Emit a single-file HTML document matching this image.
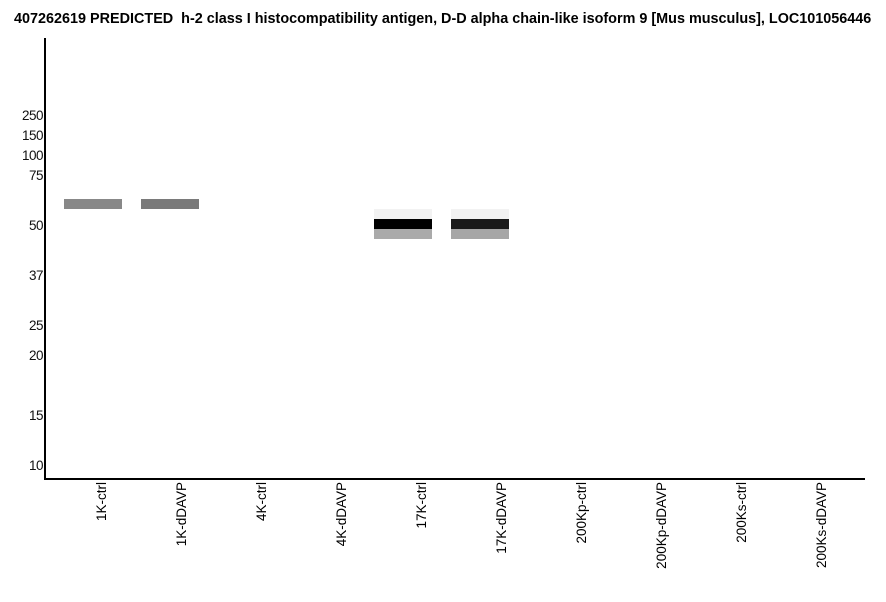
<!DOCTYPE html>
<html><head><style>
body{margin:0;width:886px;height:595px;background:#fff;position:relative;font-family:"Liberation Sans",Arial,sans-serif;overflow:hidden}
.t{position:absolute;left:14px;top:11px;font-size:14.4px;font-weight:bold;white-space:nowrap}
.y{position:absolute;right:843px;font-size:13.5px;color:#111;line-height:14px;letter-spacing:-0.5px}
.b{position:absolute}
.x{position:absolute;font-size:13.5px;white-space:nowrap;transform-origin:0 0;transform:rotate(-90deg);text-align:right;width:120px;line-height:15px}
</style></head><body>
<div class="t">407262619 PREDICTED&nbsp; h-2 class I histocompatibility antigen, D-D alpha chain-like isoform 9 [Mus musculus], LOC101056446</div>
<div class="b" style="left:44px;top:38px;width:2px;height:442px;background:#000"></div>
<div class="b" style="left:44px;top:478px;width:821px;height:2px;background:#000"></div>
<div class="y" style="top:109px">250</div>
<div class="y" style="top:129px">150</div>
<div class="y" style="top:149px">100</div>
<div class="y" style="top:169px">75</div>
<div class="y" style="top:219px">50</div>
<div class="y" style="top:269px">37</div>
<div class="y" style="top:319px">25</div>
<div class="y" style="top:349px">20</div>
<div class="y" style="top:409px">15</div>
<div class="y" style="top:459px">10</div>
<div class="b" style="left:64px;top:199px;width:58px;height:10px;background:#888"></div>
<div class="b" style="left:141px;top:199px;width:58px;height:10px;background:#7a7a7a"></div>
<div class="b" style="left:374px;top:209px;width:58px;height:10px;background:#f2f2f2"></div>
<div class="b" style="left:374px;top:219px;width:58px;height:10px;background:#000"></div>
<div class="b" style="left:374px;top:229px;width:58px;height:10px;background:#aaa"></div>
<div class="b" style="left:451px;top:209px;width:58px;height:10px;background:#f2f2f2"></div>
<div class="b" style="left:451px;top:219px;width:58px;height:10px;background:#1a1a1a"></div>
<div class="b" style="left:451px;top:229px;width:58px;height:10px;background:#a6a6a6"></div>
<div class="x" style="left:94px;top:602px">1K-ctrl</div>
<div class="x" style="left:174px;top:602px">1K-dDAVP</div>
<div class="x" style="left:254px;top:602px">4K-ctrl</div>
<div class="x" style="left:334px;top:602px">4K-dDAVP</div>
<div class="x" style="left:414px;top:602px">17K-ctrl</div>
<div class="x" style="left:494px;top:602px">17K-dDAVP</div>
<div class="x" style="left:574px;top:602px">200Kp-ctrl</div>
<div class="x" style="left:654px;top:602px">200Kp-dDAVP</div>
<div class="x" style="left:734px;top:602px">200Ks-ctrl</div>
<div class="x" style="left:814px;top:602px">200Ks-dDAVP</div>
</body></html>
